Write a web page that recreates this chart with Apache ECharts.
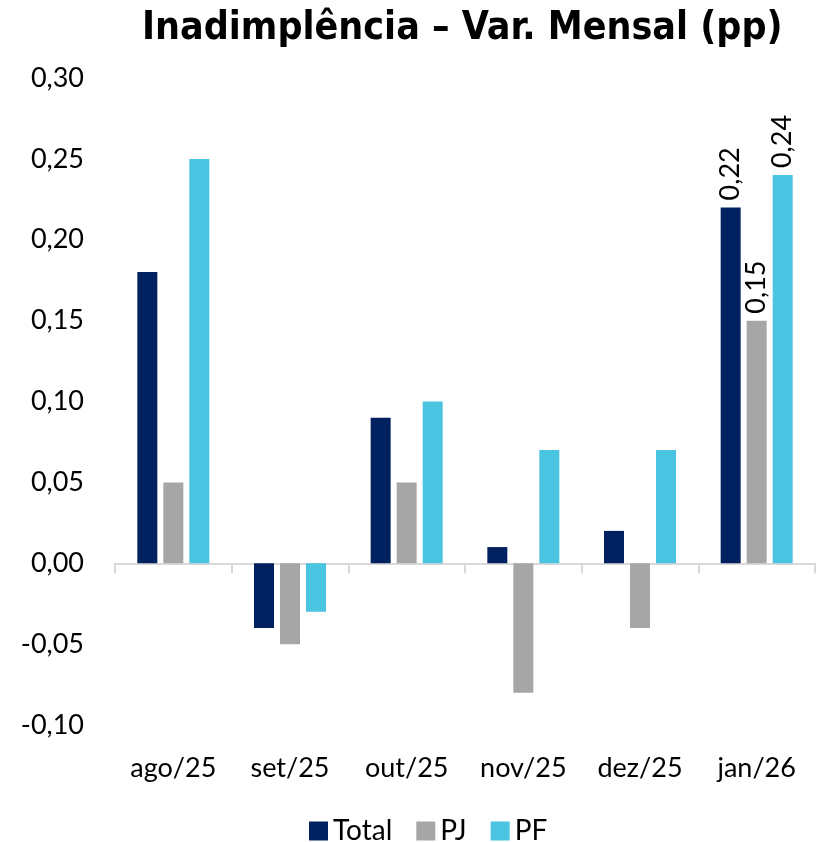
<!DOCTYPE html>
<html>
<head>
<meta charset="utf-8">
<script src="https://cdn.jsdelivr.net/npm/echarts@6/dist/echarts.min.js"></script>
<style>
  html, body { margin: 0; padding: 0; background: #fff; }
  #chart { width: 821px; height: 842px; }
</style>
</head>
<body>
<div id="chart"></div>
<script>
// dados
var categories = ["ago/25", "set/25", "out/25", "nov/25", "dez/25", "jan/26"];
var total = [0.18, -0.04, 0.09, 0.01, 0.02, 0.22];
var pj = [0.05, -0.05, 0.05, -0.08, -0.04, 0.15];
var pf = [0.25, -0.03, 0.10, 0.07, 0.07, 0.24];

var font = "Lato, 'Noto Sans', sans-serif";

function fmt(v) {
  return v.toFixed(2).replace(".", ",");
}

// só o último mês tem rótulo
function withLabels(arr) {
  return arr.map(function (v, i) {
    if (i !== arr.length - 1) return v;
    return {
      value: v,
      label: {
        show: true,
        position: "top",
        rotate: 90,
        align: "left",
        verticalAlign: "middle",
        distance: 7,
        fontSize: 27,
        fontFamily: font,
        color: "#000",
        formatter: function (p) { return fmt(p.value); }
      }
    };
  });
}

var chart = echarts.init(document.getElementById("chart"));

var option = {
  animation: false,
  title: {
    text: "Inadimplência – Var. Mensal (pp)",
    left: 137,
    top: 4,
    textStyle: { fontSize: 39, fontWeight: "bold", fontFamily: "'DejaVu Sans Condensed', 'DejaVu Sans', sans-serif", color: "#000" }
  },
  legend: {
    data: ["Total", "PJ", "PF"],
    top: 812,
    left: 304,
    icon: "rect",
    itemWidth: 19,
    itemHeight: 19,
    itemGap: 24,
    textStyle: { fontSize: 28, fontFamily: font, color: "#000" }
  },
  grid: { left: 115, right: 6, top: 78, bottom: 117, outerBoundsMode: "none" },
  xAxis: [
    {
      // eixo na linha do zero, com as marcas entre categorias
      type: "category",
      data: categories,
      axisLine: { onZero: true, lineStyle: { color: "#D9D9D9", width: 2 } },
      axisTick: { show: true, length: 10, lineStyle: { color: "#D9D9D9", width: 2 } },
      axisLabel: { show: false }
    },
    {
      // só os nomes dos meses, embaixo
      type: "category",
      data: categories,
      position: "bottom",
      axisLine: { show: false, onZero: false },
      axisTick: { show: false },
      axisLabel: { fontSize: 27, fontFamily: font, color: "#000", margin: 30 }
    }
  ],
  yAxis: {
    type: "value",
    min: -0.1,
    max: 0.3,
    interval: 0.05,
    splitLine: { show: false },
    axisLine: { show: false },
    axisTick: { show: false },
    axisLabel: {
      fontSize: 27,
      fontFamily: font,
      color: "#000",
      margin: 31,
      formatter: function (v) { return fmt(v); }
    }
  },
  series: [
    { name: "Total", type: "bar", data: withLabels(total), barWidth: 20, barGap: "30%",
      itemStyle: { color: "#002060" } },
    { name: "PJ", type: "bar", data: withLabels(pj), barWidth: 20, barGap: "30%",
      itemStyle: { color: "#A6A6A6" } },
    { name: "PF", type: "bar", data: withLabels(pf), barWidth: 20, barGap: "30%",
      itemStyle: { color: "#4BC4E2" } }
  ]
};

chart.setOption(option);
</script>
</body>
</html>
